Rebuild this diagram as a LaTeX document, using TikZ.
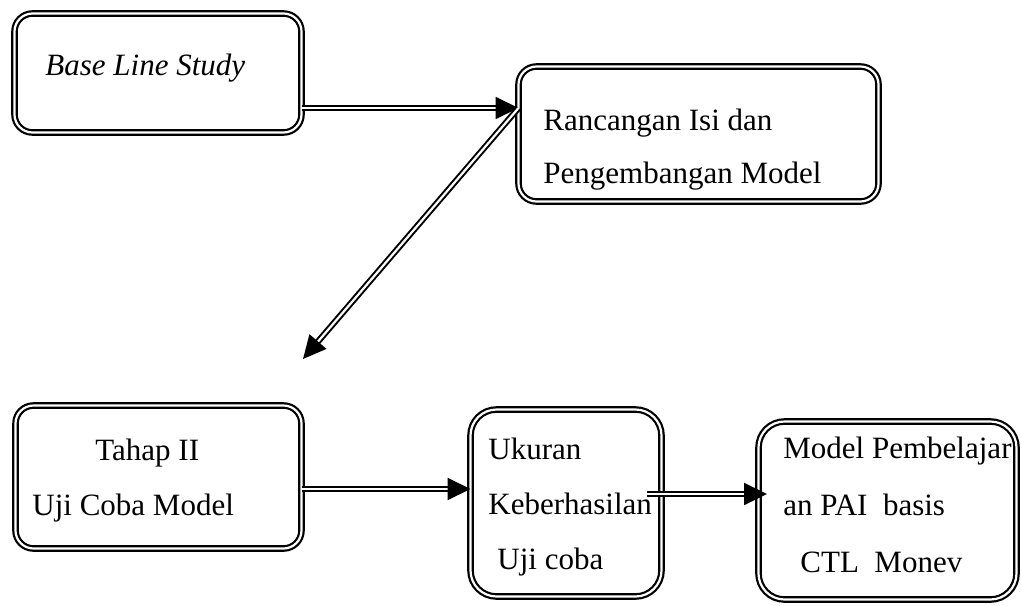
\documentclass[tikz,border=0pt]{standalone}
\usepackage{fontspec}
\setmainfont{Liberation Serif}
\usetikzlibrary{arrows.meta}

\begin{document}
\begin{tikzpicture}[x=0.5pt,y=-0.5pt,
  box/.style={draw, double, double distance=1.1pt, line width=1.1pt,
    inner sep=0pt, outer sep=0pt, rounded corners=9pt},
  txt/.style={anchor=base west, align=left, inner sep=0pt,
    font=\fontsize{15.5pt}{27.5pt}\selectfont},
  dblarrow/.style={double, double distance=1.1pt, line width=1pt,
    -{Triangle[length=11.5pt,width=11pt]}}]
\useasboundingbox (0,0) rectangle (1021,605);
\node[box, minimum width=143.5pt, minimum height=59.5pt] (base) at (158,73) {};
\node[box, minimum width=180pt, minimum height=67.5pt] (rancang) at (698.5,134) {};
\node[box, minimum width=143pt, minimum height=71.5pt] (tahap) at (158.5,477) {};
\node[box, minimum width=95.5pt, minimum height=93.5pt, rounded corners=13pt] (ukuran) at (566,503) {};
\node[box, minimum width=129pt, minimum height=89pt, rounded corners=13pt] (model) at (887.5,510.5) {};
\coordinate (tip) at (303,359);
\node[txt, font=\fontsize{15.5pt}{27.5pt}\selectfont\itshape] (baseT) at (45,75) {Base Line Study};
\node[txt, font=\fontsize{15.5pt}{26.5pt}\selectfont] (rancangT) at (543,183) {Rancangan Isi dan\\Pengembangan Model};
\node[txt] (tahapT) at (32,515) {\hspace{31.5pt}Tahap II\\Uji Coba Model};
\node[txt] (ukuranT) at (488,569) {Ukuran\\Keberhasilan\\\hspace{4.5pt}Uji coba};
\node[txt, font=\fontsize{15.5pt}{28.5pt}\selectfont] (modelT) at (783,572) {Model Pembelajar\\an PAI\ \ basis\\\hspace{8.5pt}CTL\ \ Monev};
\draw[dblarrow] ([yshift=-17.5pt]base.east) -- ([yshift=13pt]rancang.west);
\draw[dblarrow] ([yshift=13pt]rancang.west) -- (tip);
\draw[dblarrow] ([yshift=-6pt]tahap.east) -- ([yshift=7pt]ukuran.west);
\draw[dblarrow] ([xshift=-7.25pt,yshift=4.5pt]ukuran.east) -- ([xshift=4.25pt,yshift=8.25pt]model.west);
\end{tikzpicture}
\end{document}
